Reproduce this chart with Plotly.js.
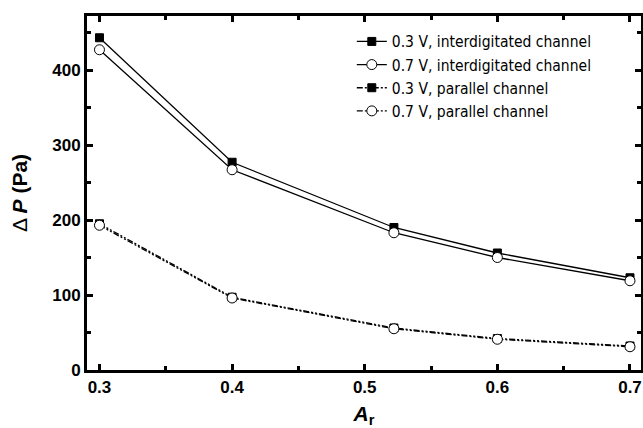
<!DOCTYPE html>
<html><head><meta charset="utf-8">
<script src="https://cdn.plot.ly/plotly-3.0.1.min.js"></script>
<style>html,body{margin:0;padding:0;background:#fff}</style>
</head><body>
<div id="chart" style="width:643px;height:428px"></div>
<script>
const ar = [0.3, 0.4, 0.522, 0.6, 0.7];
const inter03 = [443, 277, 190, 156, 123];
const inter07 = [427, 267, 183, 150, 119];
const para03 = [195, 97, 56, 42, 32];
const para07 = [193, 96, 55, 41, 31];
const names = ["0.3 V, interdigitated channel", "0.7 V, interdigitated channel",
               "0.3 V, parallel channel", "0.7 V, parallel channel"];

const dashDot2 = "6px,2px,2px,2px,2px,2px";
const sq = {symbol: "square", size: 8, color: "#000", line: {color: "#000", width: 1}};
const ci = {symbol: "circle", size: 10, color: "#fff", line: {color: "#000", width: 1}};
const traces = [
  {x: ar, y: inter03, name: names[0], mode: "lines+markers", line: {color: "#000", width: 1.3}, marker: sq},
  {x: ar, y: inter07, name: names[1], mode: "lines+markers", line: {color: "#000", width: 1.3}, marker: ci},
  {x: ar, y: para03, name: names[2], mode: "lines+markers", line: {color: "#000", width: 1.3, dash: dashDot2}, marker: sq},
  {x: ar, y: para07, name: names[3], mode: "lines+markers", line: {color: "#000", width: 1.3, dash: dashDot2}, marker: ci}
];
const tickFont = {family: "Liberation Sans, Arial, sans-serif", size: 17, color: "#000", weight: "bold"};
const layout = {
  width: 643, height: 428,
  margin: {l: 87, r: 2, t: 16, b: 58},
  paper_bgcolor: "#fff", plot_bgcolor: "#fff",
  showlegend: true,
  legend: {x: 0.478, y: 0.975, xanchor: "left", yanchor: "top", bgcolor: "rgba(0,0,0,0)",
    font: {family: "Liberation Sans Narrow, DejaVu Sans Condensed, Arial Narrow, sans-serif", size: 15.5, color: "#000", stretch: "condensed"},
    tracegroupgap: 0, itemwidth: 30},
  xaxis: {
    range: [0.2906, 0.7083], tickvals: [0.3, 0.4, 0.5, 0.6, 0.7], ticktext: ["0.3", "0.4", "0.5", "0.6", "0.7"],
    showgrid: false, zeroline: false, showline: true, linecolor: "#000", linewidth: 3, mirror: "ticks",
    ticks: "inside", ticklen: 6, tickwidth: 3, tickcolor: "#000",
    minor: {ticks: "inside", dtick: 0.05, tick0: 0.3, ticklen: 4, tickwidth: 3, tickcolor: "#000", showgrid: false},
    tickfont: tickFont,
    title: {text: "<b><i>A</i><sub>r</sub></b>", font: {family: "Liberation Sans, Arial, sans-serif", size: 21, color: "#000"}, standoff: 10}
  },
  yaxis: {
    range: [0, 472], tickvals: [0, 100, 200, 300, 400],
    showgrid: false, zeroline: false, showline: true, linecolor: "#000", linewidth: 3, mirror: "ticks",
    ticks: "inside", ticklen: 6, tickwidth: 3, tickcolor: "#000",
    minor: {ticks: "inside", dtick: 50, tick0: 0, ticklen: 4, tickwidth: 3, tickcolor: "#000", showgrid: false},
    tickfont: tickFont,
    title: {text: "Δ <b><i>P</i> (Pa)</b>", font: {family: "Liberation Sans, Arial, sans-serif", size: 21, color: "#000"}, standoff: 19}
  }
};
Plotly.newPlot("chart", traces, layout, {displayModeBar: false, staticPlot: true});
</script>
</body></html>
